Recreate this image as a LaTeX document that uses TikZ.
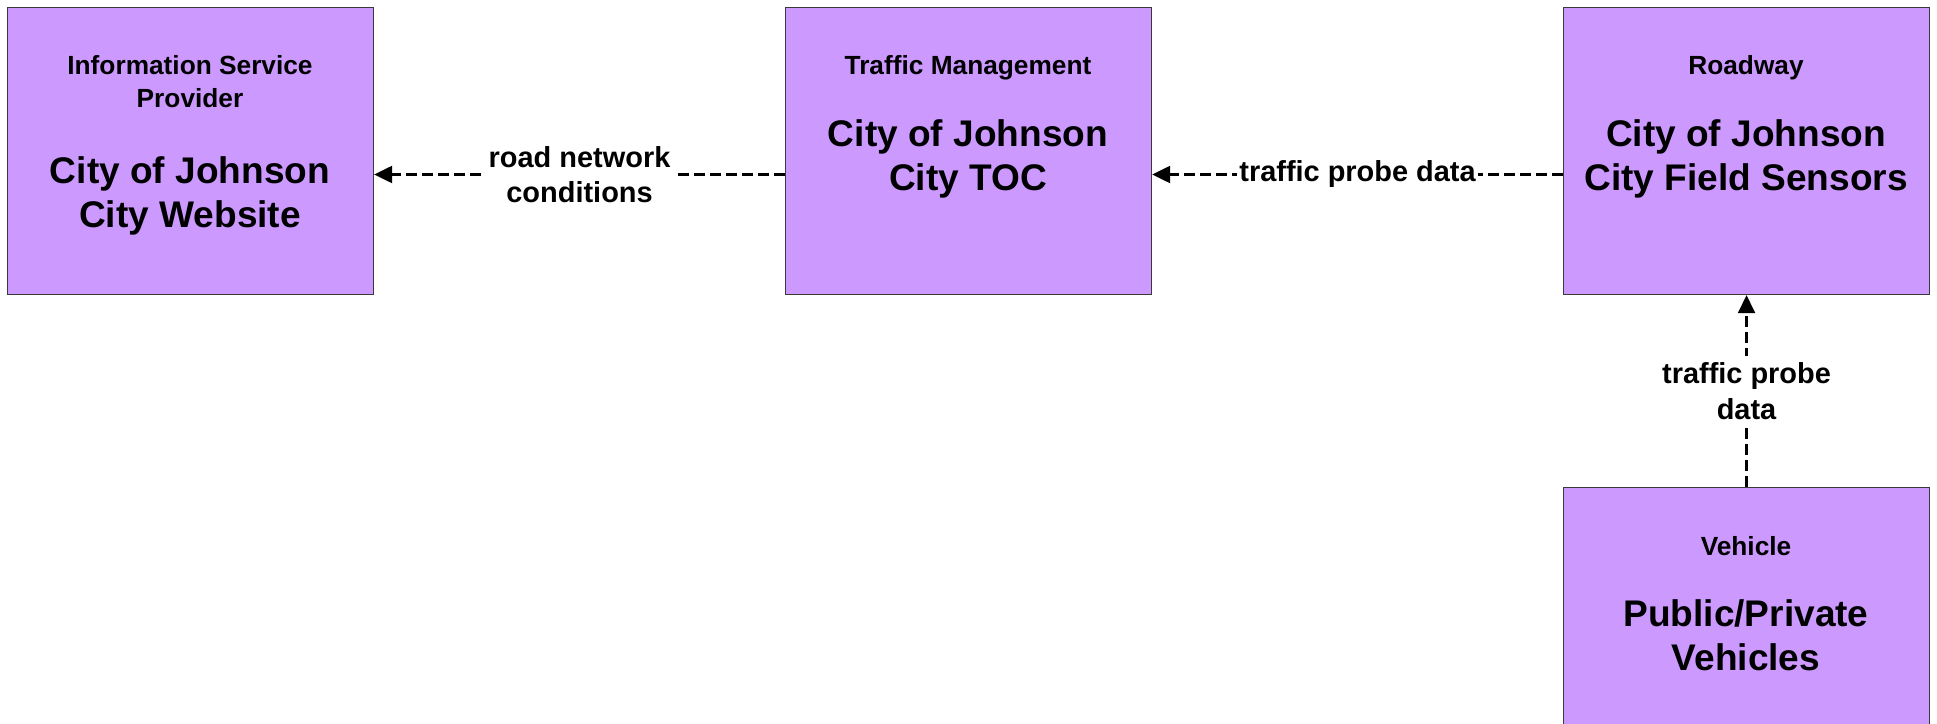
\documentclass[tikz,border=0pt]{standalone}
\usepackage{fontspec}
\setmainfont{Liberation Sans}
\usetikzlibrary{arrows.meta}
\definecolor{boxfill}{HTML}{CC99FF}
\definecolor{boxline}{HTML}{3A3A3A}
\begin{document}
\begin{tikzpicture}[x=0.75pt,y=-0.75pt,
  entity/.style={draw=boxline, line width=0.8pt, fill=boxfill,
    minimum width=274.5pt, minimum height=215.25pt, inner sep=0pt, anchor=north west},
  ttl/.style={font=\bfseries\fontsize{19.7}{25}\selectfont, align=center, inner sep=0pt, anchor=north},
  nm/.style={font=\bfseries\fontsize{27.8}{33.2}\selectfont, align=center, inner sep=0pt, anchor=north},
  flow/.style={line width=2.25pt, dash pattern=on 8pt off 4pt,
    -{Triangle[length=13.5pt,width=12.5pt]}},
  lbl/.style={fill=white, font=\bfseries\fontsize{21.7}{26.5}\selectfont, align=center,
    inner xsep=2pt, inner ysep=5pt}
]
\useasboundingbox (0,0) rectangle (1937,724);
\clip (0,0) rectangle (1937,724);

% boxes
\node[entity] (isp) at (7,7) {};
\node[entity] (toc) at (785,7) {};
\node[entity] (rs) at (1563,7) {};
\node[entity] (veh) at (1563,487) {};

% texts
\node[ttl] (ispT) at (190,55) {Information Service\\Provider};
\node[nm] (ispN) at (190,156) {City of Johnson\\City Website};

\node[ttl] (tocT) at (968,55) {Traffic Management};
\node[nm] (tocN) at (968,119) {City of Johnson\\City TOC};

\node[ttl] (rsT) at (1746,55) {Roadway};
\node[nm] (rsN) at (1746,119) {City of Johnson\\City Field Sensors};

\node[ttl] (vehT) at (1746,536) {Vehicle};
\node[nm] (vehN) at (1746,599) {Public/Private\\Vehicles};

% flows
\draw[flow] ([yshift=-17.6pt]toc.west) -- node[lbl] (l1) {road network\\conditions} ([yshift=-17.6pt]isp.east);
\draw[flow] ([yshift=-17.6pt]rs.west) -- node[lbl] (l2) {traffic probe data} ([yshift=-17.6pt]toc.east);
\draw[flow] (veh.north) -- node[lbl] (l3) {traffic probe\\data} (rs.south);
\end{tikzpicture}
\end{document}
